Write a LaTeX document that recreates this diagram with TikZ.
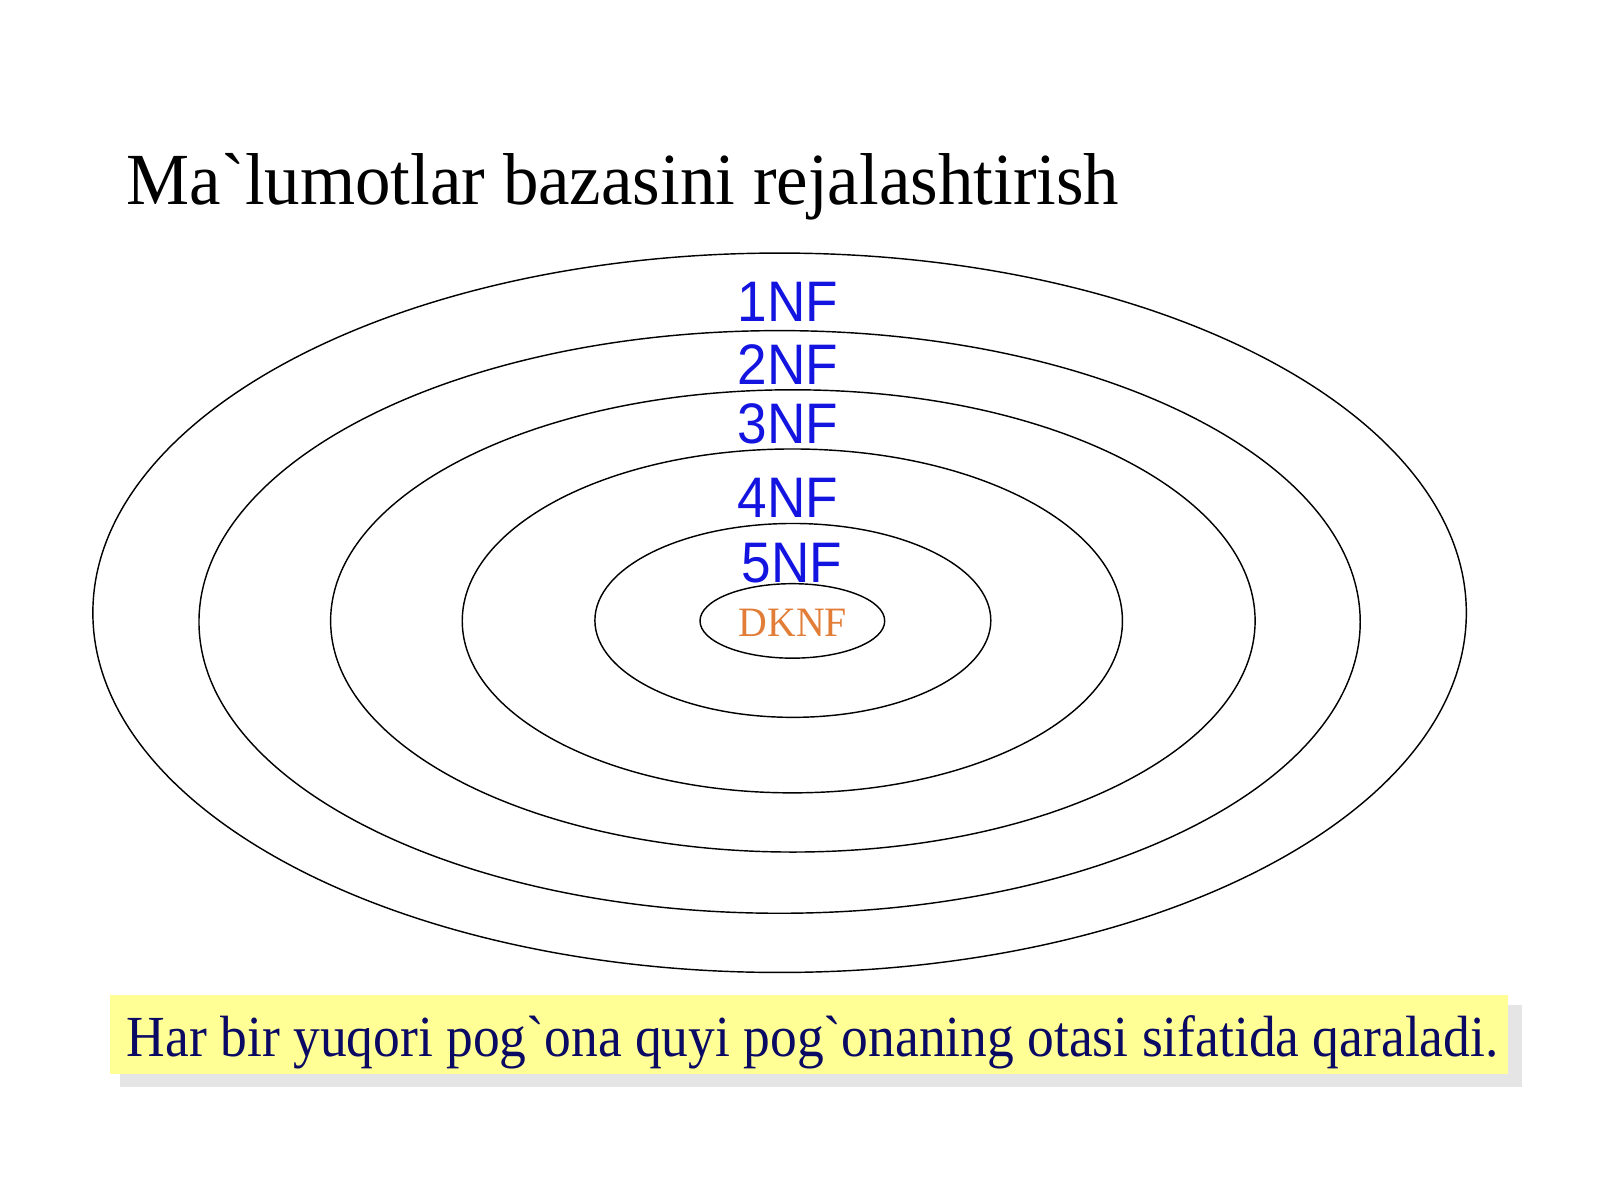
\documentclass[tikz,border=0pt]{standalone}
\usepackage{fontspec}
\newfontfamily\titleserif[FakeStretch=0.965]{Liberation Serif}
\newfontfamily\noteserif[FakeStretch=0.92]{Liberation Serif}
\newfontfamily\dkserif[FakeStretch=0.95]{Liberation Serif}
\newfontfamily\lsans[FakeStretch=0.93]{Liberation Sans}
\definecolor{nfblue}{RGB}{20,20,225}
\definecolor{dkorange}{RGB}{225,125,55}
\definecolor{boxyellow}{RGB}{255,255,150}
\definecolor{navytext}{RGB}{10,10,100}
\begin{document}
\begin{tikzpicture}[x=0.5pt,y=-0.5pt,
  ring/.style={draw=black,line width=0.7pt},
  nflabel/.style={text=nfblue,font=\lsans\fontsize{28}{30}\selectfont,inner sep=0pt},
]
\useasboundingbox (0,0) rectangle (1568,1176);
\draw[ring] (764,600.5) ellipse [x radius=673, y radius=352.5];
\draw[ring] (764,609.5) ellipse [x radius=569, y radius=285.5];
\draw[ring] (777,608.5) ellipse [x radius=453, y radius=226.5];
\draw[ring] (776.5,608.5) ellipse [x radius=323.5, y radius=168.5];
\draw[ring] (777,608) ellipse [x radius=194, y radius=95];
\draw[ring] (776.5,608.5) ellipse [x radius=90.5, y radius=36.5];
\node[anchor=base west,inner sep=0pt,font=\titleserif\fontsize{36}{40}\selectfont] (title) at (124,200) {Ma`lumotlar bazasini rejalashtirish};
\node[nflabel,anchor=base] (n1) at (772,315) {1NF};
\node[nflabel,anchor=base] (n2) at (772,377) {2NF};
\node[nflabel,anchor=base] (n3) at (772,435) {3NF};
\node[nflabel,anchor=base] (n4) at (772,507) {4NF};
\node[nflabel,anchor=base] (n5) at (776,571) {5NF};
\node[anchor=base,inner sep=0pt,text=dkorange,font=\dkserif\fontsize{20.5}{22}\selectfont] (dk) at (777,624) {DKNF};
\fill[black!10] (118,985) rectangle (1492,1065);
\fill[boxyellow] (108,975) rectangle (1478,1053);
\node[anchor=base west,inner sep=0pt,text=navytext,font=\noteserif\fontsize{28.5}{30}\selectfont] (note) at (124,1035) {Har bir yuqori pog`ona quyi pog`onaning otasi sifatida qaraladi.};
\end{tikzpicture}
\end{document}
